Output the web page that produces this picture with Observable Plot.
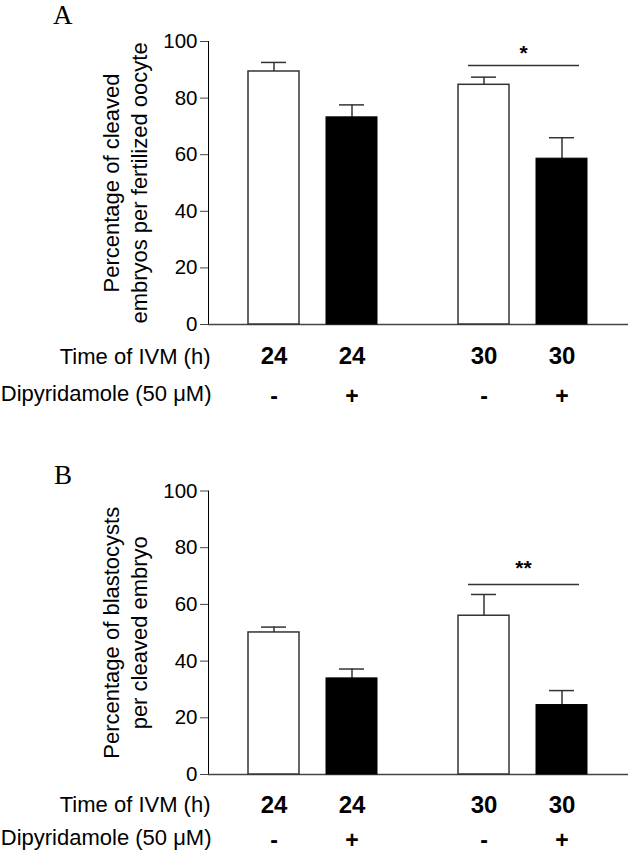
<!DOCTYPE html>
<html>
<head>
<meta charset="utf-8">
<script src="https://cdn.jsdelivr.net/npm/d3@7"></script>
<script src="https://cdn.jsdelivr.net/npm/@observablehq/plot@0.6"></script>
<style>
  html, body { margin: 0; padding: 0; background: #fff; }
  #wrap { position: relative; width: 629px; height: 853px; background: #fff; overflow: hidden; }
  .panel { position: absolute; left: 0; }
  .letter { position: absolute; z-index: 2; font-family: "Liberation Serif", "Times New Roman", serif; font-size: 27px; line-height: normal; color: #000; }
  .panel svg g[aria-label="y-axis"] line,
  .panel svg g[aria-label="y-axis"] path,
  .panel svg g[aria-label="y-axis tick"] path { stroke: #444; }
</style>
</head>
<body>
<div id="wrap">
  <div id="panelA" class="panel" style="top:0px;"></div>
  <div id="panelB" class="panel" style="top:440px;"></div>
  <div class="letter" style="left:53px; top:0px;">A</div>
  <div class="letter" style="left:54px; top:460px;">B</div>
</div>
<script>
// ---- data ----
const timeOfIVM = ["24", "24", "30", "30"];          // hours
const dipyridamole = ["-", "+", "-", "+"];            // 50 µM treatment
const cleavedMean = [89.4, 73.2, 84.7, 58.6];         // panel A
const cleavedErr  = [3.2, 4.4, 2.7, 7.4];
const blastMean   = [50.1, 33.9, 56.0, 24.5];         // panel B
const blastErr    = [1.9, 3.3, 7.5, 5.1];
const yTicks = [0, 20, 40, 60, 80, 100];
const sigGroup = ["30"];
const sigA = [91.5], sigLabelA = ["*"];
const sigB = [67.0], sigLabelB = ["**"];
const yLabelA = "Percentage of cleaved\nembryos per fertilized oocyte";
const yLabelB = "Percentage of blastocysts\nper cleaved embryo";
const rowTime = "Time of IVM (h)";
const rowDip = "Dipyridamole (50 \u03BCM)";

const SANS = "Liberation Sans, Arial, Helvetica, sans-serif";

function panel({means, errs, sigValues, sigLabels, yLabel, marginTop, marginBottom, height, row1dy, row2dy, sigDy}) {
  const data = timeOfIVM.map((t, i) => ({time: t, dip: dipyridamole[i], mean: means[i], err: errs[i]}));
  const sig = sigGroup.map((g, i) => ({time: g, value: sigValues[i], label: sigLabels[i]}));
  const first = [{time: "24"}];
  return Plot.plot({
    width: 629,
    height,
    marginLeft: 207,
    marginRight: 1,
    marginTop,
    marginBottom,
    style: {fontFamily: SANS, fontSize: "20.5px", color: "#000", background: "#fff", overflow: "visible"},
    fx: {domain: ["24", "30"], padding: 0, axis: null, label: null},
    x: {domain: ["-", "+"], paddingInner: 0.342, paddingOuter: 0.506, axis: null, label: null},
    y: {domain: [0, 100], ticks: yTicks, tickSize: 8, tickPadding: 3, line: true, label: null},
    marks: [
      Plot.ruleY([0], {stroke: "#444", strokeWidth: 1.5}),
      // error bars (upper)
      Plot.ruleX(data, {fx: "time", x: "dip", y1: "mean", y2: d => d.mean + d.err, stroke: "#333", strokeWidth: 1.5}),
      Plot.tickY(data, {fx: "time", x: "dip", y: d => d.mean + d.err, stroke: "#333", strokeWidth: 1.5, insetLeft: 13, insetRight: 13}),
      // bars
      Plot.barY(data, {filter: d => d.dip === "-", fx: "time", x: "dip", y: "mean", fill: "#fff", stroke: "#333", strokeWidth: 1.5}),
      Plot.barY(data, {filter: d => d.dip === "+", fx: "time", x: "dip", y: "mean", fill: "#000", stroke: "#000", strokeWidth: 1}),
      // significance
      Plot.ruleY(sig, {fx: "time", y: "value", stroke: "#333", strokeWidth: 1.5, insetLeft: 50, insetRight: 49}),
      Plot.text(sig, {fx: "time", y: "value", text: "label", lineAnchor: "bottom", dy: sigDy, fontSize: 21, fontWeight: "bold", fontFamily: SANS, fill: "#000"}),
      // y label
      Plot.text(first, {fx: "time", frameAnchor: "left", text: () => yLabel, rotate: -90, textAnchor: "middle", lineAnchor: "middle", dx: -84, lineHeight: 1.27, fontSize: 22, fontFamily: SANS, fill: "#000"}),
      // condition rows
      Plot.text(data, {fx: "time", x: "dip", text: "time", frameAnchor: "bottom", lineAnchor: "middle", dy: row1dy, fontSize: 24, fontWeight: "bold", fontFamily: SANS, fill: "#000"}),
      Plot.text(data, {fx: "time", x: "dip", text: "dip", frameAnchor: "bottom", lineAnchor: "middle", dy: row2dy, fontSize: 23, fontWeight: "bold", fontFamily: SANS, fill: "#000"}),
      Plot.text(first, {fx: "time", frameAnchor: "bottom-left", lineAnchor: "middle", text: () => rowTime, textAnchor: "end", dx: 2, dy: row1dy, fontSize: 22, fontFamily: SANS, fill: "#000"}),
      Plot.text(first, {fx: "time", frameAnchor: "bottom-left", lineAnchor: "middle", text: () => rowDip, textAnchor: "end", dx: 3, dy: row2dy - 3, fontSize: 22, fontFamily: SANS, fill: "#000"})
    ]
  });
}

document.getElementById("panelA").appendChild(panel({
  means: cleavedMean, errs: cleavedErr, sigValues: sigA, sigLabels: sigLabelA, yLabel: yLabelA,
  marginTop: 41, marginBottom: 116, height: 440, row1dy: 32, row2dy: 72, sigDy: -6
}));
document.getElementById("panelB").appendChild(panel({
  means: blastMean, errs: blastErr, sigValues: sigB, sigLabels: sigLabelB, yLabel: yLabelB,
  marginTop: 50.5, marginBottom: 79, height: 413, row1dy: 30.5, row2dy: 66.5, sigDy: -10
}));
</script>
</body>
</html>
